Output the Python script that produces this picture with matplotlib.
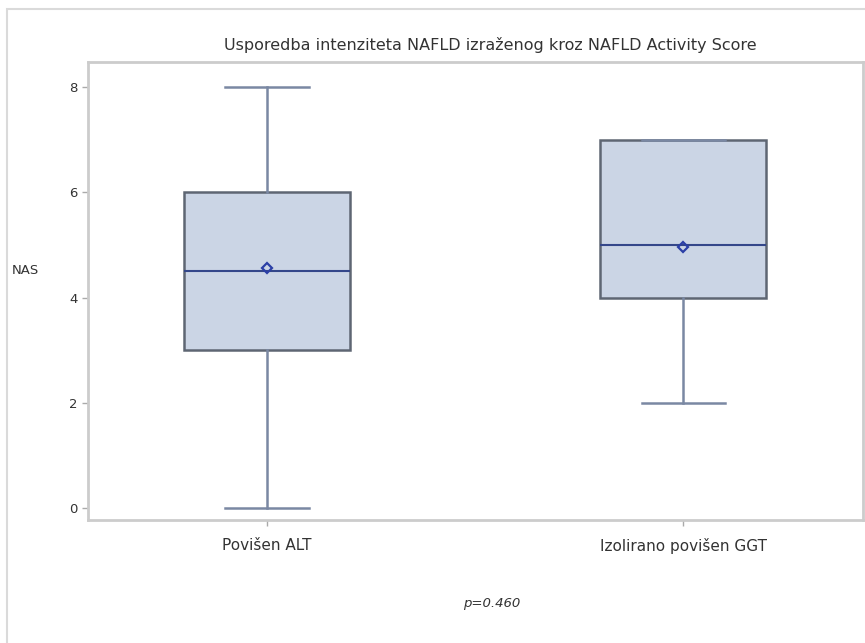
import matplotlib
matplotlib.use("Agg")
import matplotlib.pyplot as plt
from matplotlib.patches import Rectangle

categories = ["Povišen ALT", "Izolirano povišen GGT"]
whisker_low = [0, 2]
q1 = [3, 4]
median = [4.5, 5]
q3 = [6, 7]
whisker_high = [8, 7]
mean = [4.57, 4.96]
yticks = [0, 2, 4, 6, 8]
title = "Usporedba intenziteta NAFLD izraženog kroz NAFLD Activity Score"
ylabel = "NAS"
note = "p=0.460"

fig = plt.figure(figsize=(8.65, 6.43), dpi=100)
fig.patch.set_facecolor("white")
fig.add_artist(Rectangle((7/865, -0.1), 1.2, 1 - 9/643 + 0.1, transform=fig.transFigure,
                         fill=False, edgecolor="#DADADA", linewidth=1.5))

ax = fig.add_axes([88/865, 1 - 520/643, (863-88)/865, (520-62)/643])

stats = []
for i, c in enumerate(categories):
    stats.append(dict(label=c, whislo=whisker_low[i], q1=q1[i], med=median[i],
                      q3=q3[i], whishi=whisker_high[i], mean=mean[i], fliers=[]))

edge = "#5E6673"
wcol = "#7A88A3"
ax.bxp(stats, positions=range(len(categories)), widths=0.40, patch_artist=True,
       showmeans=True, showfliers=False,
       boxprops=dict(facecolor="#CBD5E5", edgecolor=edge, linewidth=1.8),
       whiskerprops=dict(color=wcol, linewidth=1.8),
       capprops=dict(color=wcol, linewidth=1.8),
       capwidths=0.20,
       medianprops=dict(color="#34478A", linewidth=1.5),
       meanprops=dict(marker="D", markerfacecolor="none", markeredgecolor="#2B3FA6",
                      markersize=5.5, markeredgewidth=1.6))

ax.set_xlim(-0.43, 1.432)
ax.set_ylim(-0.23, 8.48)
ax.set_yticks(yticks)
ax.set_yticklabels([str(v) for v in yticks])
ax.set_xticks(range(len(categories)))
ax.set_xticklabels(categories)
for s in ax.spines.values():
    s.set_color("#CCCCCC")
    s.set_linewidth(2)
ax.tick_params(axis="both", colors="#AAAAAA", labelcolor="#333333", length=4, width=1)
ax.tick_params(axis="y", labelsize=9.5)
ax.tick_params(axis="x", labelsize=11, pad=9)

fig.text(490/865, 1 - 45/643, title, ha="center", va="center", fontsize=11.5, color="#333333")
fig.text(25/865, 1 - 270/643, ylabel, ha="center", va="center", fontsize=9.5, color="#333333")
fig.text(492/865, 1 - 603/643, note, ha="center", va="center", fontsize=9.5,
         style="italic", color="#333333")

fig.savefig("out.png", dpi=100, facecolor="white")
